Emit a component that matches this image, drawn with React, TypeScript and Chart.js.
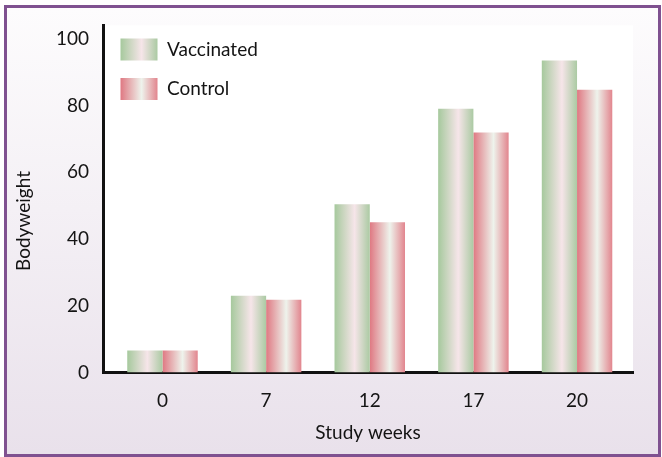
import React, { useEffect, useRef } from 'react';
import { Chart, registerables } from 'chart.js';

Chart.register(...registerables);

const categories = ['0', '7', '12', '17', '20'];
const vaccinated = [6.6, 23.0, 50.4, 79.0, 93.5];
const control = [6.6, 21.8, 45.0, 71.9, 84.7];
const yTicks = [0, 20, 40, 60, 80, 100];
const seriesNames = ['Vaccinated', 'Control'];

const FONT = 'Lato, "Open Sans", sans-serif';
const TEXT = '#141414';
const CAT_PCT = 0.68;

const gradStops: [number, string][][] = [
  [[0, '#a6c99d'], [0.57, '#f6e5e9'], [1, '#abcaa3']],
  [[0, '#df7882'], [0.57, '#eef3ec'], [1, '#e2858e']],
];

function makeGrad(ctx: CanvasRenderingContext2D, x0: number, x1: number, stops: [number, string][]) {
  const g = ctx.createLinearGradient(x0, 0, x1, 0);
  stops.forEach(([o, c]) => g.addColorStop(o, c));
  return g;
}

function barColor(c: any) {
  const chart = c.chart;
  const ds = c.datasetIndex ?? 0;
  const xs = chart.scales && chart.scales.x;
  if (!chart.chartArea || !xs || c.dataIndex === undefined || c.type !== 'data') return gradStops[ds][0][1];
  const unit = Math.abs(xs.getPixelForValue(1) - xs.getPixelForValue(0));
  const center = xs.getPixelForValue(c.dataIndex);
  const group = unit * CAT_PCT;
  const bw = group / 2;
  const left = center - group / 2 + ds * bw;
  return makeGrad(chart.ctx, left, left + bw, gradStops[ds]);
}

const decorPlugin = {
  id: 'decor',
  beforeDraw(chart: any) {
    const { ctx, chartArea: a } = chart;
    ctx.save();
    ctx.fillStyle = '#ffffff';
    ctx.fillRect(a.left, a.top, a.right - a.left, a.bottom - a.top);
    ctx.restore();
    const lg = chart.legend;
    if (lg && lg.legendItems && lg.legendHitBoxes) {
      const bw = lg.options.labels.boxWidth;
      lg.legendItems.forEach((it: any, i: number) => {
        const hb = lg.legendHitBoxes[i];
        if (!hb) return;
        it.fillStyle = makeGrad(ctx, hb.left, hb.left + bw, gradStops[it.datasetIndex]);
      });
    }
  },
};

export default function App() {
  const ref = useRef<HTMLCanvasElement>(null);

  useEffect(() => {
    if (!ref.current) return;
    const chart = new Chart(ref.current, {
      type: 'bar',
      data: {
        datasets: [
          {
            label: seriesNames[0],
            data: vaccinated.map((v, i) => ({ x: i, y: v })),
            backgroundColor: barColor,
            borderWidth: 0,
          },
          {
            label: seriesNames[1],
            data: control.map((v, i) => ({ x: i, y: v })),
            backgroundColor: barColor,
            borderWidth: 0,
          },
        ],
      },
      options: {
        animation: false,
        responsive: false,
        events: [],
        categoryPercentage: CAT_PCT,
        barPercentage: 1,
        layout: { padding: { top: 0, left: 0, right: 29, bottom: 15 } },
        scales: {
          x: {
            type: 'linear',
            offset: false,
            min: -0.574,
            max: 4.54,
            afterBuildTicks: (s: any) => {
              s.ticks = categories.map((_, i) => ({ value: i }));
            },
            afterFit: (s: any) => {
              s.height = 69.5;
            },
            ticks: {
              callback: (v: any) => categories[v as number] ?? '',
              font: { family: FONT, size: 19 },
              color: TEXT,
              padding: 16.5,
              autoSkip: false,
              maxRotation: 0,
            },
            grid: { display: false, drawTicks: false },
            border: { display: true, color: '#111111', width: 3 },
            title: {
              display: true,
              text: 'Study weeks',
              font: { family: FONT, size: 19, lineHeight: 1 },
              color: TEXT,
              padding: { top: 0, bottom: 0 },
            },
          },
          y: {
            min: 0,
            max: 104,
            afterBuildTicks: (s: any) => {
              s.ticks = yTicks.map((v) => ({ value: v }));
            },
            afterFit: (s: any) => {
              s.width = 55;
            },
            ticks: {
              font: { family: FONT, size: 19 },
              color: TEXT,
              padding: 14,
            },
            grid: { display: false, drawTicks: false },
            border: { display: true, color: '#111111', width: 3 },
          },
        },
        plugins: {
          legend: {
            position: 'chartArea' as any,
            align: 'start',
            title: {
              display: true,
              text: '',
              font: { family: FONT, size: 10, lineHeight: 1 },
              padding: { top: 11, bottom: 0 },
            },
            labels: {
              boxWidth: 37,
              boxHeight: 22,
              padding: 17.5,
              font: { family: FONT, size: 19 },
              color: TEXT,
            },
          },
          title: {
            display: true,
            position: 'left',
            text: 'Bodyweight',
            font: { family: FONT, size: 19, weight: 'normal', lineHeight: 1.2 },
            color: TEXT,
            padding: 12.6,
          },
          subtitle: {
            display: true,
            position: 'top',
            text: '',
            font: { family: FONT, size: 10, lineHeight: 1 },
            padding: { top: 0, bottom: 12.5 },
          },
          tooltip: { enabled: false },
        },
      },
      plugins: [decorPlugin],
    } as any);
    return () => chart.destroy();
  }, []);

  return (
    <div style={{ position: 'absolute', left: 0, top: 0, width: 662, height: 457, background: '#ffffff' }}>
      <div
        style={{
          position: 'absolute',
          left: 4,
          top: 5,
          width: 657,
          height: 452,
          boxSizing: 'border-box',
          border: '3px solid #7f5190',
          background: 'linear-gradient(to bottom, #fdfcfd 0%, #f4f0f5 45%, #e9e1eb 100%)',
        }}
      />
      <canvas
        ref={ref}
        width={662}
        height={457}
        style={{ position: 'absolute', left: 0, top: 0, width: 662, height: 457 }}
      />
    </div>
  );
}
